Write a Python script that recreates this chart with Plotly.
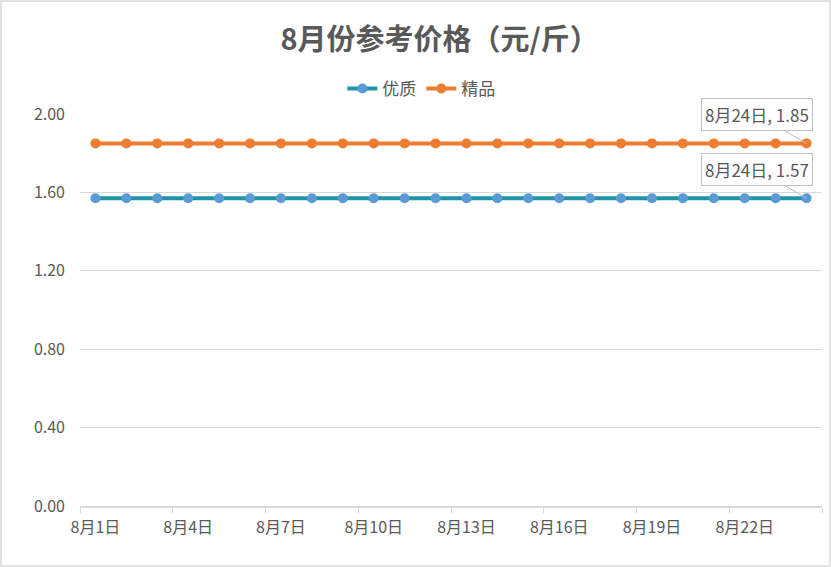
import plotly.graph_objects as go

dates = [f"8月{d}日" for d in range(1, 25)]
youzhi = [1.57] * 24
jingpin = [1.85] * 24
series_names = ["优质", "精品"]
title_text = "8月份参考价格（元/斤）"
y_ticks = [0.0, 0.4, 0.8, 1.2, 1.6, 2.0]

FONT = "Noto Sans CJK SC, Noto Sans, sans-serif"
GRAY = "#595959"

fig = go.Figure()
fig.add_trace(go.Scatter(x=dates, y=youzhi, name=series_names[0], mode="lines+markers",
                         line=dict(color="#1F94A8", width=4),
                         marker=dict(color="#5B9BD5", size=10)))
fig.add_trace(go.Scatter(x=dates, y=jingpin, name=series_names[1], mode="lines+markers",
                         line=dict(color="#ED7D31", width=4),
                         marker=dict(color="#ED7D31", size=10)))

for vals in (jingpin, youzhi):
    fig.add_annotation(x=dates[-1], y=vals[-1], xref="x", yref="y",
                       text=f"{dates[-1]}, {vals[-1]:.2f}",
                       showarrow=True, arrowhead=0, arrowwidth=1, arrowcolor="#BFBFBF",
                       ax=-50, ay=-29, bgcolor="white", bordercolor="#BFBFBF", borderwidth=1,
                       borderpad=3, font=dict(family=FONT, size=17, color=GRAY))

fig.update_layout(
    width=831, height=567,
    paper_bgcolor="white", plot_bgcolor="white",
    margin=dict(l=80, r=9, t=114, b=61, autoexpand=False),
    font=dict(family=FONT, color=GRAY, size=16),
    title=dict(text=f"<b>{title_text}</b>", x=0.529, xanchor="center", y=1 - 40/567, yanchor="middle",
               font=dict(size=29, color=GRAY, family=FONT)),
    legend=dict(orientation="h", xref="container", x=0.507, xanchor="center",
                y=1 + 25/392, yanchor="middle",
                font=dict(size=17, color=GRAY, family=FONT)),
    showlegend=True,
    xaxis=dict(type="category", range=[-0.5, 23.5], tickmode="linear", dtick=3, tick0=0,
               tickson="boundaries", ticks="outside", ticklen=5, tickcolor="#D9D9D9",
               tickangle=0, automargin=False, ticklabelstandoff=6,
               showgrid=False, showline=True, linecolor="#D9D9D9", linewidth=1.5,
               tickfont=dict(size=16, color=GRAY)),
    yaxis=dict(range=[0, 2.0], tickvals=y_ticks, tickformat=".2f", showgrid=True,
               gridcolor="#D9D9D9", gridwidth=1, zeroline=False, showline=False,
               ticks="", automargin=False, ticklabelstandoff=14,
               tickfont=dict(size=16, color=GRAY)),
    shapes=[dict(type="rect", xref="paper", yref="paper",
                 x0=-79/742, x1=1 + 8/742, y0=-60/392, y1=1 + 113/392,
                 line=dict(color="#D9D9D9", width=1.5), layer="below")],
)

fig.write_html("out.html", config={"displayModeBar": False},
               post_script="document.body.style.margin='0';document.body.style.overflow='hidden';")
